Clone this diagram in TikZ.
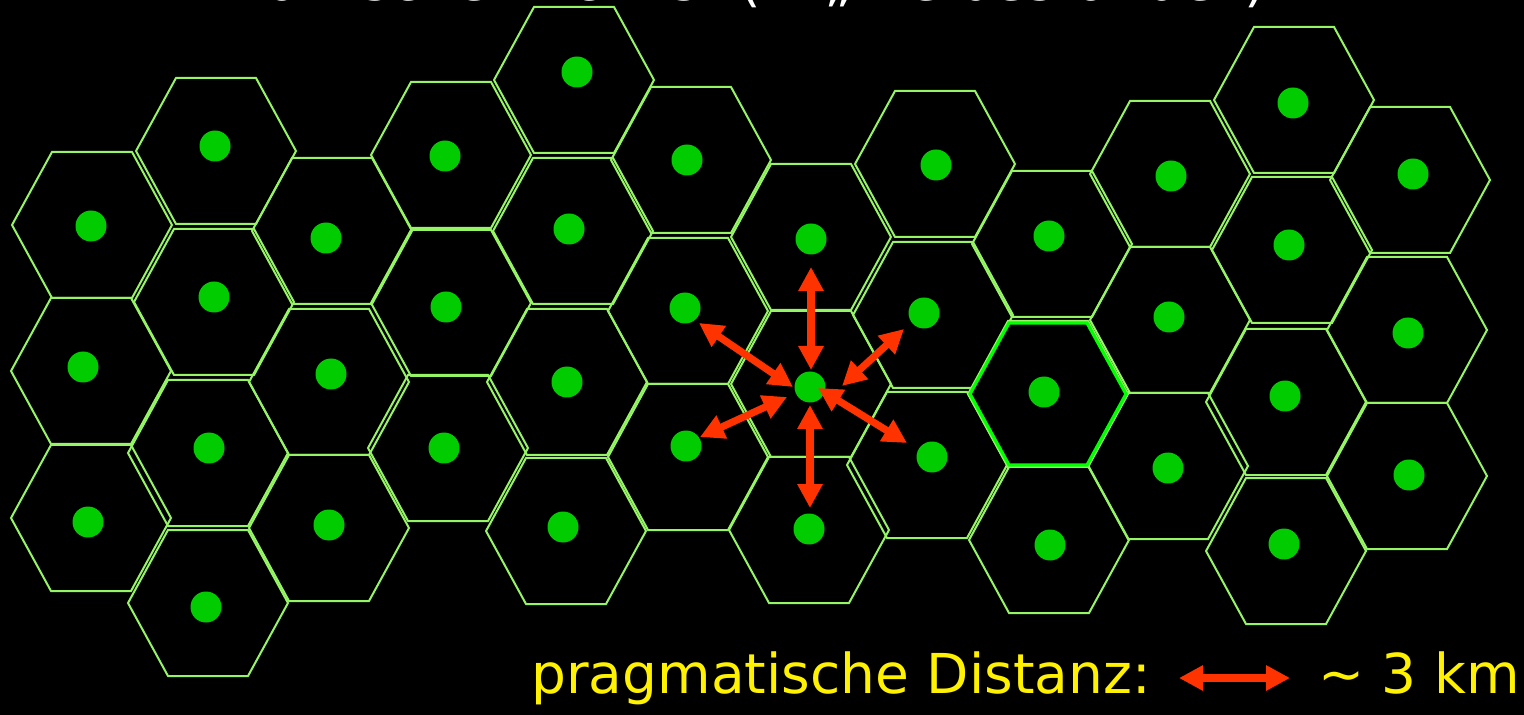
\documentclass[tikz,border=0pt]{standalone}
\usepackage{fontspec}
\setmainfont{DejaVu Sans}
\usetikzlibrary{arrows.meta}
\definecolor{hexgreen}{RGB}{150,245,100}
\definecolor{hilite}{RGB}{0,255,0}
\definecolor{dotgreen}{RGB}{0,204,0}
\definecolor{arrowred}{RGB}{255,51,0}
\begin{document}
\begin{tikzpicture}[x=0.5pt,y=-0.5pt,
  hexline/.style={draw=hexgreen,line width=1pt,line join=miter},
  hexhi/.style={draw=hilite,line width=1.6pt,line join=miter},
  stationdot/.style={circle,fill=dotgreen,inner sep=0pt,minimum size=15.5pt},
  dist/.style={draw=arrowred,line width=3.6pt,
    {Triangle[length=12pt,width=12pt]}-{Triangle[length=12pt,width=12pt]}},
  lbl/.style={font=\fontsize{27.5}{33}\selectfont,inner sep=0pt}]
\useasboundingbox (0,0) rectangle (1524,715);
\clip (0,0) rectangle (1524,715);
\fill[black] (0,0) rectangle (1524,715);
% hexagonal cells
\foreach \x/\y in {92/225,91/371,91/518,
  216/151,214/302,208/453,208/603,
  332/231,329/382,329/528,
  451/155,451/303,448/448,
  574/80,573/231,567/382,566/531,
  691/160,688/311,688/457,
  811/237,811/384,809/530,
  935/164,933/315,927/465,
  1052/244,1048/394,1049/540,
  1170/174,1170/320,1168/466,
  1294/100,1292/250,1286/402,1286/551,
  1410/180,1407/330,1407/476}
  \draw[hexline,shift={(\x,\y)}] (-80,0) -- (-40,-73) -- (40,-73) -- (80,0) -- (40,73) -- (-40,73) -- cycle;
\draw[hexhi,shift={(1048,394)}] (-78,0) -- (-39,-71) -- (39,-71) -- (78,0) -- (39,71) -- (-39,71) -- cycle;
% stations
\foreach \x/\y [count=\i] in {91/226,83/367,88/522,
  215/146,214/297,209/448,206/607,
  326/238,331/374,329/525,
  445/156,446/307,444/448,
  577/72,569/229,567/382,563/527,
  687/160,685/308,686/446,
  811/239,810/387,809/529,
  936/165,924/313,932/457,
  1049/236,1044/392,1050/545,
  1171/176,1169/317,1168/468,
  1293/103,1289/245,1285/396,1284/544,
  1413/174,1408/333,1409/475}
  \node[stationdot] (d\i) at (\x,\y) {};
% distance arrows around the centre station
\coordinate (u1) at (811,267); \coordinate (u2) at (811,370);
\coordinate (w1) at (810,405); \coordinate (w2) at (810,508);
\coordinate (ul1) at (699,323); \coordinate (ul2) at (793,387);
\coordinate (ur1) at (904,329); \coordinate (ur2) at (842,386);
\coordinate (ll1) at (700,437); \coordinate (ll2) at (787,397);
\coordinate (lr1) at (818,388); \coordinate (lr2) at (907,443);
\draw[dist] (u1) -- (u2);
\draw[dist] (w1) -- (w2);
\draw[dist] (ul1) -- (ul2);
\draw[dist] (ur1) -- (ur2);
\draw[dist] (ll1) -- (ll2);
\draw[dist] (lr1) -- (lr2);
% texts
\node[lbl,font=\fontsize{27.8}{33}\selectfont,text=white,anchor=base west] (title) at (223,1) {wahrscheinlich ist (→ „Zielbestände“)};
\node[lbl,text=yellow,anchor=base west] (legend) at (531,693) {pragmatische Distanz:};
\coordinate (la) at (1179,678); \coordinate (lb) at (1290,678);
\draw[dist] (la) -- (lb);
\node[lbl,text=yellow,anchor=base west] (kmlabel) at (1318,693) {\textasciitilde{} 3 km};
\end{tikzpicture}
\end{document}
